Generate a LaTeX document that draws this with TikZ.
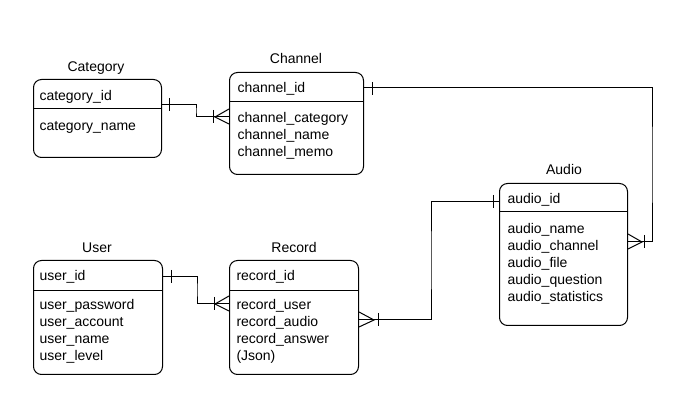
\documentclass[tikz,border=0pt]{standalone}
\usepackage{fontspec}
\setmainfont{Liberation Sans}
\begin{document}
\begin{tikzpicture}
[
 x=1pt, y=-1pt,
 line width=1pt,
 ENTITY/.style={rectangle, draw=black, rounded corners=8pt, anchor=north west, inner sep=0mm},
 TITLE/.style={anchor=base, inner sep=0mm, font=\fontsize{14}{17}\selectfont},
 FIELD/.style={anchor=base west, inner sep=0mm, font=\fontsize{14}{17}\selectfont},
 LINK/.style={draw=black, line width=1pt},
 ]
%
\useasboundingbox (0,0) rectangle (675,403);
%
\node [ENTITY, minimum width=128pt, minimum height=78pt]  (CAT)   at ( 33, 79)  {};
\node [ENTITY, minimum width=134pt, minimum height=102pt] (CHAN)  at (229, 72)  {};
\node [ENTITY, minimum width=128pt, minimum height=142pt] (AUD)   at (499,183)  {};
\node [ENTITY, minimum width=129pt, minimum height=114pt] (USR)   at ( 33,260)  {};
\node [ENTITY, minimum width=129pt, minimum height=114pt] (REC)   at (229,260)  {};
%
\node [TITLE]  (CATT)   at ( 96, 71.5)  {Category};
\node [TITLE]  (CHANT)  at (296, 64)  {Channel};
\node [TITLE]  (AUDT)   at (564,175)  {Audio};
\node [TITLE]  (USRT)   at ( 97,252.5)  {User};
\node [TITLE]  (RECT)   at (294,252.5)  {Record};
%
\draw (CAT.west  |- 0,109) -- (CAT.east  |- 0,109);
\draw (CHAN.west |- 0,102) -- (CHAN.east |- 0,102);
\draw (AUD.west  |- 0,212) -- (AUD.east  |- 0,212);
\draw (USR.west  |- 0,291) -- (USR.east  |- 0,291);
\draw (REC.west  |- 0,291) -- (REC.east  |- 0,291);
%
\node [FIELD]  (CAT1)   at ( 39,101)  {category\_id};
\node [FIELD]  (CAT2)   at ( 39,131)  {category\_name};
%
\node [FIELD]  (CHAN1)  at (237, 93)  {channel\_id};
\foreach \t [count=\i] in {channel\_category, channel\_name, channel\_memo}
  { \node [FIELD]  (CHAN\i1) at (237, 106+17*\i)  {\t}; }
%
\node [FIELD]  (AUD1)   at (507,204)  {audio\_id};
\foreach \t [count=\i] in {audio\_name, audio\_channel, audio\_file, audio\_question, audio\_statistics}
  { \node [FIELD]  (AUD\i1) at (507, 217+17*\i)  {\t}; }
%
\node [FIELD]  (USR1)   at ( 39,281)  {user\_id};
\foreach \t [count=\i] in {user\_password, user\_account, user\_name, user\_level}
  { \node [FIELD]  (USR\i1) at ( 39, 293+17*\i)  {\t}; }
%
\node [FIELD]  (REC1)   at (236,281)  {record\_id};
\foreach \t [count=\i] in {record\_user, record\_audio, record\_answer, (Json)}
  { \node [FIELD]  (REC\i1) at (236, 293+17*\i)  {\t}; }
%
% Category -- Channel
\draw [LINK]  (CAT.east |- 0,105) -| (196,111) |- (CHAN.west |- 0,117);
\draw [LINK]  ([xshift=7pt]CAT.east |- 0,98) -- ++(0,13);
\draw [LINK]  ([xshift=-16pt]CHAN.west |- 0,110) -- ++(0,13);
\draw [LINK]  (CHAN.west |- 0,109) -- ++(-14,8) -- ++(14,7);
%
% Channel -- Audio
\draw [LINK]  (CHAN.east |- 0,88) -| (652,165) |- (AUD.east |- 0,242);
\draw [LINK]  ([xshift=8pt]CHAN.east |- 0,82) -- ++(0,13);
\draw [LINK]  ([xshift=16pt]AUD.east |- 0,235) -- ++(0,13);
\draw [LINK]  (AUD.east |- 0,234) -- ++(14,8) -- ++(-14,7);
%
% User -- Record
\draw [LINK]  (USR.east |- 0,277) -| (197,290) |- (REC.west |- 0,304);
\draw [LINK]  ([xshift=8pt]USR.east |- 0,270) -- ++(0,13);
\draw [LINK]  ([xshift=-15pt]REC.west |- 0,297) -- ++(0,13);
\draw [LINK]  (REC.west |- 0,296) -- ++(-14,8) -- ++(14,7);
%
% Record -- Audio
\draw [LINK]  (REC.east |- 0,320) -| (431,260) |- (AUD.west |- 0,202);
\draw [LINK]  ([xshift=19pt]REC.east |- 0,313) -- ++(0,13);
\draw [LINK]  ([xshift=-6pt]AUD.west |- 0,195) -- ++(0,13);
\draw [LINK]  (REC.east |- 0,312) -- ++(15,8) -- ++(-15,7);
%
\end{tikzpicture}
\end{document}
